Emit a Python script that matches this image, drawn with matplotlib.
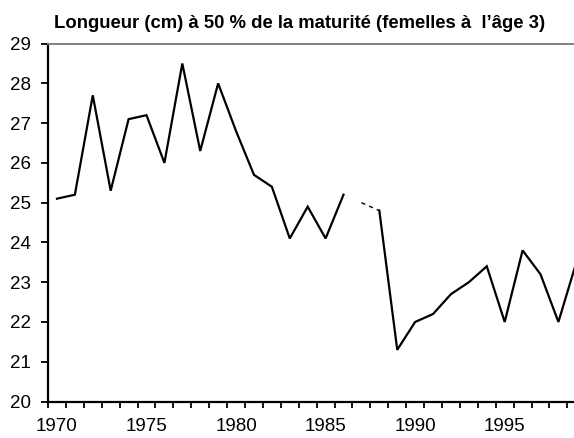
import numpy as np
import matplotlib
matplotlib.use("Agg")
import matplotlib.pyplot as plt
from matplotlib.ticker import FixedLocator

plt.rcParams['font.family'] = ['Liberation Sans', 'DejaVu Sans']

title = "Longueur (cm) à 50 % de la maturité (femelles à  l\u2019âge 3)"

years = list(range(1970, 2000))
length = [25.1, 25.2, 27.7, 25.3, 27.1, 27.2, 26.0, 28.5, 26.3, 28.0,
          26.8, 25.7, 25.4, 24.1, 24.9, 24.1, 25.2, np.nan, 24.8, 21.3,
          22.0, 22.2, 22.7, 23.0, 23.4, 22.0, 23.8, 23.2, 22.0, 23.5]

# gap year bridged with a dashed segment
gap_years = [1987, 1988]
gap_length = [25.0, 24.8]

tick_years = [1970, 1975, 1980, 1985, 1990, 1995]
y_ticks = list(range(20, 30))

fig = plt.figure(figsize=(5.74, 4.38), dpi=100)
ax = fig.add_axes([48 / 574, 1 - 401.5 / 438, 1 - 48 / 574, (401.5 - 43.6) / 438])

ax.plot(years, length, color='black', lw=1.6, solid_joinstyle='miter')
ax.plot(gap_years, gap_length, color='black', lw=1.0, dashes=(3, 3))

ax.set_xlim(1969.5, 1998.87)
ax.set_ylim(20, 29)

ax.set_yticks(y_ticks)
ax.set_xticks(tick_years)
ax.xaxis.set_minor_locator(FixedLocator(np.arange(1969.5, 1999.5, 1)))
ax.tick_params(axis='x', which='major', length=0, pad=12, labelsize=13.5)
ax.tick_params(axis='x', which='minor', length=4, width=1.3, direction='out')
ax.tick_params(axis='y', length=5, width=1.3, direction='out', pad=7, labelsize=13.5)

for s in ['left', 'bottom']:
    ax.spines[s].set_linewidth(1.6)
ax.spines['top'].set_color('#808080')
ax.spines['top'].set_linewidth(1.4)
ax.spines['right'].set_visible(False)

fig.text(0.522, 1 - 24 / 438, title, ha='center', va='center',
         fontsize=13.3, fontweight='bold')

fig.savefig('out.png', dpi=100)
